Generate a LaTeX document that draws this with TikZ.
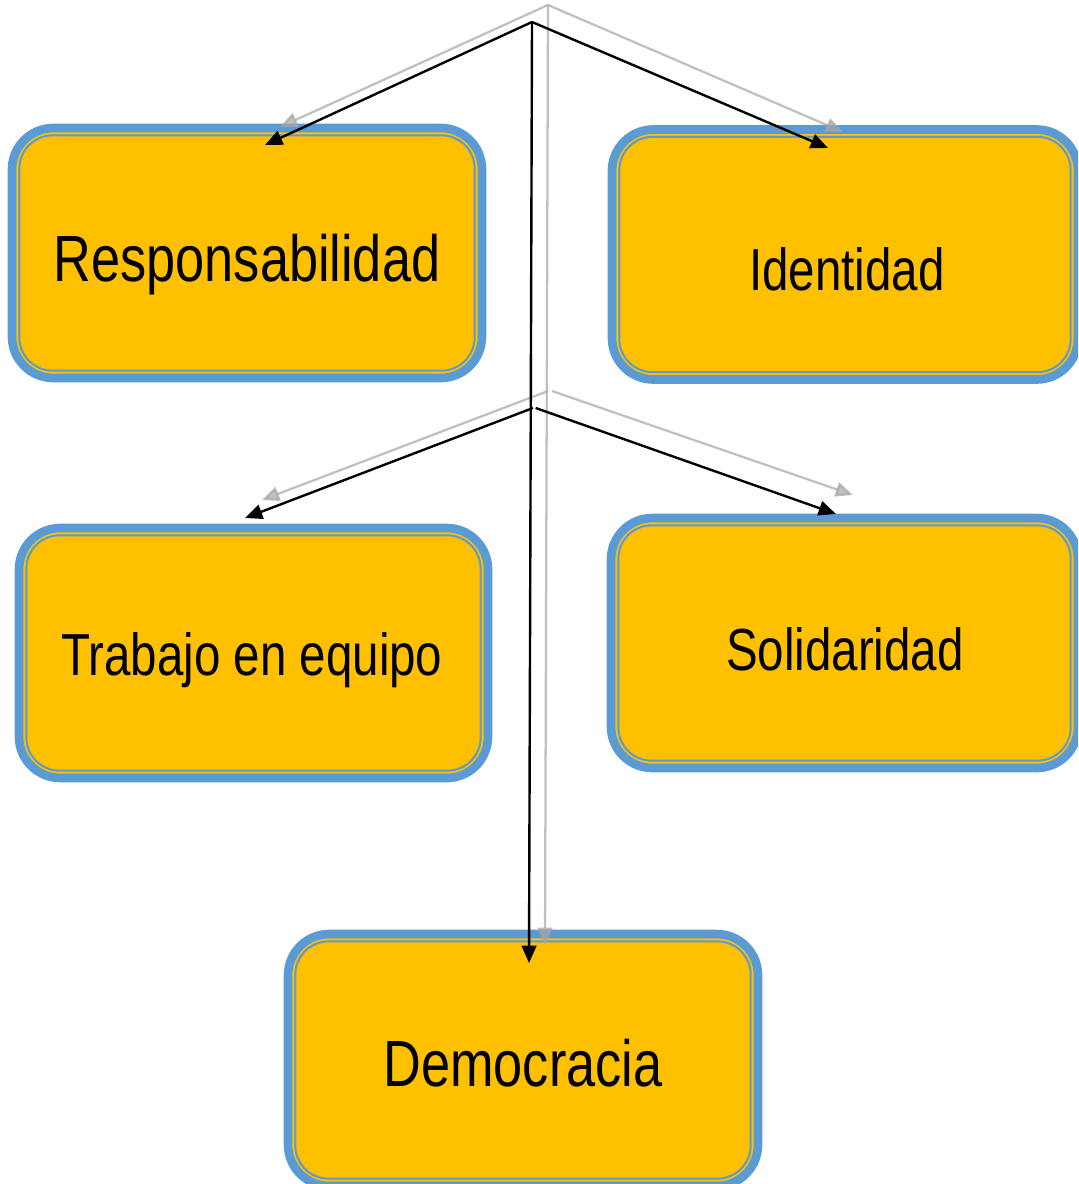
\documentclass[tikz,border=0pt]{standalone}
\usepackage{fontspec}
\setmainfont[FakeStretch=0.8]{Liberation Sans}
\usetikzlibrary{arrows.meta}
\definecolor{boxfill}{HTML}{FFC000}
\definecolor{boxblue}{HTML}{5B9BD5}
\definecolor{shadowgray}{HTML}{A5A5A5}
\begin{document}
\begin{tikzpicture}[x=0.75pt,y=-0.75pt,
  valuebox/.style={draw=boxblue, fill=boxfill, line width=6.5pt, rounded corners=31pt,
    rectangle, inner sep=0pt, minimum height=187.5pt},
  innerline/.style={draw=boxblue, line width=1.5pt, rounded corners=25pt},
  bigtext/.style={anchor=base, inner sep=0pt, font=\fontsize{49}{52}\selectfont},
  smalltext/.style={anchor=base, inner sep=0pt, font=\fontsize{44.5}{48}\selectfont},
  blackarrow/.style={draw=black, line width=1.8pt, -{Triangle[length=13pt,width=11pt]}},
  grayarrow/.style={draw=shadowgray, opacity=0.7, line width=1.7pt,
    -{Triangle[length=13pt,width=11pt]}}]
\useasboundingbox (0,0) rectangle (1078,1184);
\clip (0,0) rectangle (1078,1184);

% boxes
\node[valuebox, minimum width=352.5pt] (resp) at (247,253) {};
\node[valuebox, minimum width=349.5pt] (ident) at (845,254.5) {};
\node[valuebox, minimum width=351.75pt] (trab) at (253.5,653) {};
\node[valuebox, minimum width=350.25pt] (soli) at (844.5,643) {};
\node[valuebox, minimum width=352.5pt, minimum height=189pt] (demo) at (523,1060) {};

\draw[innerline] ([xshift=8.75pt,yshift=-8.75pt]resp.north west) rectangle ([xshift=-8.75pt,yshift=8.75pt]resp.south east);
\draw[innerline] ([xshift=8.75pt,yshift=-8.75pt]ident.north west) rectangle ([xshift=-8.75pt,yshift=8.75pt]ident.south east);
\draw[innerline] ([xshift=8.75pt,yshift=-8.75pt]trab.north west) rectangle ([xshift=-8.75pt,yshift=8.75pt]trab.south east);
\draw[innerline] ([xshift=8.75pt,yshift=-8.75pt]soli.north west) rectangle ([xshift=-8.75pt,yshift=8.75pt]soli.south east);
\draw[innerline] ([xshift=8.75pt,yshift=-8.75pt]demo.north west) rectangle ([xshift=-8.75pt,yshift=8.75pt]demo.south east);

% labels
\node[bigtext] (tresp) at (247,281) {Responsabilidad};
\node[smalltext] (tident) at (847,290) {Identidad};
\node[smalltext] (ttrab) at (252,675) {Trabajo en equipo};
\node[smalltext] (tsoli) at (845,670) {Solidaridad};
\node[bigtext] (tdemo) at (523,1086) {Democracia};

% connector points
\coordinate (topG) at (548,5);
\coordinate (midG) at (548,391);
\coordinate (rtipG) at (280,127);
\coordinate (itipG) at (843,132);
\coordinate (dtipG) at (545,945);
\coordinate (ttipG) at (262,500);
\coordinate (stipG) at (853,495);

\coordinate (topB) at (532,22);
\coordinate (midB) at (533,408);
\coordinate (rtipB) at (265,145);
\coordinate (itipB) at (828,148);
\coordinate (dtipB) at (529,963);
\coordinate (ttipB) at (245,518);
\coordinate (stipB) at (836,514);

% shadow connectors
\draw[grayarrow] (topG) -- (rtipG);
\draw[grayarrow] (topG) -- (itipG);
\draw[grayarrow] (topG) -- (dtipG);
\draw[grayarrow] (midG) -- (ttipG);
\draw[grayarrow] ([xshift=3pt]midG) -- (stipG);

% connectors
\draw[blackarrow] (topB) -- (rtipB);
\draw[blackarrow] (topB) -- (itipB);
\draw[blackarrow] (topB) -- (dtipB);
\draw[blackarrow] (midB) -- (ttipB);
\draw[blackarrow] ([xshift=2pt]midB) -- (stipB);
\end{tikzpicture}
\end{document}
